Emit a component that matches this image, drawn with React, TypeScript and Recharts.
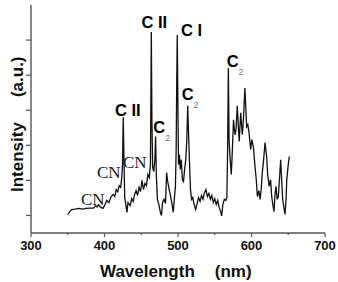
import { LineChart, Line, XAxis, YAxis } from "recharts"

// wavelength (nm) and intensity (a.u.)
const wavelength = [
  350, 352, 355, 360, 365, 370, 375, 380, 385, 388, 390, 392, 395, 398, 400,
  403, 406, 409, 412, 414, 416, 418, 420, 422, 423.5, 424.5, 425.5, 426.5, 427.5,
  429, 430.5, 432, 435, 437, 439, 441, 443, 445, 447, 449, 451, 453, 455, 457,
  459, 461, 462.5, 463.7, 464.5, 465.5, 467, 468.5, 469.5, 470.5, 472, 474, 476,
  477.5, 479, 481, 483, 484.5, 486, 488, 490, 492, 493.5, 495, 496.5, 497.5,
  498.3, 499, 499.8, 500.7, 502, 503, 504.5, 506, 507.5, 509, 510.5, 512, 513.2,
  514.2, 515.5, 517, 518.5, 520, 522, 524, 526, 528, 530, 532, 534, 536, 538,
  540, 542, 544, 546, 548, 550, 552, 554, 556, 558, 559.5, 561, 563, 565, 566.5,
  567.5, 568.5, 569.5, 571, 572.5, 574, 575.5, 577.5, 579, 580.6, 582, 583.3,
  585.3, 587.5, 589, 591, 593.4, 595, 596.6, 598.9, 600.5, 602.5, 604.8, 606.5,
  608, 610, 611.6, 613.2, 614.7, 616.5, 618.4, 620.6, 622, 624, 626, 627.5, 629,
  630.6, 632, 633.3, 635, 636.5, 638, 639.7, 641, 642.4, 644, 645.6, 647, 648,
  650, 651.4
]

const intensity = [
  1.02, 1.09, 1.17, 1.18, 1.2, 1.18, 1.2, 1.21, 1.21, 1.28, 1.24, 1.31, 1.23, 1.2, 1.28,
  1.43, 1.37, 1.54, 1.6, 1.54, 1.74, 1.68, 1.85, 1.8, 2.08, 2.45, 3.8, 2.59, 1.51,
  1.31, 1.09, 1.37, 1.28, 1.48, 1.4, 1.6, 1.71, 1.57, 1.8, 1.68, 2.0, 1.74, 1.91, 1.85,
  2.17, 2.08, 2.45, 6.23, 3.73, 2.37, 2.25, 2.59, 3.25, 2.17, 1.46, 1.31, 1.09,
  1.0, 1.37, 1.46, 1.34, 2.22, 1.97, 1.74, 1.54, 1.31, 1.09, 1.46, 1.83, 2.88,
  4.87, 6.15, 4.3, 2.45, 2.74, 2.31, 2.59, 2.02, 1.97, 2.31, 2.59, 3.16, 4.13,
  3.45, 2.59, 1.74, 1.46, 1.51, 1.31, 1.17, 1.34, 1.51, 1.4, 1.57, 1.46, 1.65, 1.74,
  1.54, 1.63, 1.46, 1.57, 1.37, 1.48, 1.31, 1.43, 1.23, 1.11, 0.99, 1.31, 1.46, 1.43, 1.51,
  2.88, 5.2, 3.16, 2.59, 2.17, 2.88, 3.73, 3.3, 3.45, 4.13, 3.59, 3.11,
  3.93, 3.3, 3.73, 4.63, 3.53, 3.59, 3.36, 2.88, 3.16, 2.96, 2.39, 2.02,
  1.54, 1.71, 1.46, 1.74, 2.22, 2.59, 3.08, 2.68, 2.17, 1.83, 2.02, 1.54, 1.31,
  1.11, 1.6, 1.83, 1.46, 1.54, 2.02, 2.59, 2.02, 1.46, 1.23, 1.03, 1.46, 2.02,
  2.45, 2.68
]

const xTicks = [300, 350, 400, 450, 500, 550, 600, 650, 700]
const yTicks = [1, 2, 3, 4, 5, 6]

const data = wavelength.map((wl, i) => ({ wl, v: intensity[i] }))

const AXIS = "#555"
const SANS = "'Liberation Sans', Arial, sans-serif"
const SERIF = "'Liberation Serif', 'Times New Roman', serif"

function XTick(props: any) {
  const { x, y, payload } = props
  const major = payload.value % 100 === 0
  return (
    <g>
      <line x1={x} x2={x} y1={y} y2={y + (major ? 4 : 2)} stroke={AXIS} strokeWidth={1.2} />
      {major && (
        <text x={x} y={y + 17} textAnchor="middle" fontFamily={SANS} fontWeight="bold" fontSize={13} fill="#111">
          {payload.value}
        </text>
      )}
    </g>
  )
}

function YTick(props: any) {
  const { x, y } = props
  return <line x1={x - 5} x2={x} y1={y} y2={y} stroke={AXIS} strokeWidth={1.2} />
}

function Bold({ x, y, children }: any) {
  return (
    <text x={x} y={y} fontFamily={SANS} fontWeight="bold" fontSize={16.5} fill="#000">
      {children}
    </text>
  )
}

function C2({ x, y }: any) {
  return (
    <text x={x} y={y} fontFamily={SANS} fontWeight="bold" fontSize={16.5} fill="#000">
      C
      <tspan dy={8} fontSize={9} fontWeight="normal" fill="#777">2</tspan>
    </text>
  )
}

function CN({ x, y }: any) {
  return (
    <text x={x} y={y} fontFamily={SERIF} fontSize={17} fill="#1a1a1a">
      CN
    </text>
  )
}

export default function App() {
  return (
    <div style={{ position: "absolute", left: 0, top: 0, width: 338, height: 282, background: "#fff" }}>
      <LineChart width={338} height={282} data={data} margin={{ top: 5, right: 13, bottom: 0, left: 0 }}>
        <XAxis
          type="number"
          dataKey="wl"
          domain={[300, 700]}
          ticks={xTicks}
          height={49}
          tickSize={0}
          tickMargin={0}
          tickLine={false}
          tick={<XTick />}
          axisLine={{ stroke: AXIS, strokeWidth: 1.4 }}
          allowDataOverflow
        />
        <XAxis
          xAxisId="top"
          orientation="top"
          type="number"
          domain={[300, 700]}
          height={0}
          tick={false}
          tickLine={false}
          axisLine={{ stroke: "#888", strokeWidth: 1.4 }}
        />
        <YAxis
          type="number"
          domain={[0.5, 7]}
          ticks={yTicks}
          width={31}
          tickSize={0}
          tickMargin={0}
          tickLine={false}
          tick={<YTick />}
          axisLine={{ stroke: AXIS, strokeWidth: 1.4 }}
          allowDataOverflow
        />
        <YAxis
          yAxisId="right"
          orientation="right"
          type="number"
          domain={[0.5, 7]}
          width={0}
          tick={false}
          tickLine={false}
          axisLine={{ stroke: "#777", strokeWidth: 1.6 }}
        />
        <Line
          type="linear"
          dataKey="v"
          stroke="#111"
          strokeWidth={1.3}
          dot={false}
          isAnimationActive={false}
        />
      </LineChart>

      <svg width={338} height={282} style={{ position: "absolute", left: 0, top: 0, pointerEvents: "none" }}>
        <Bold x={115} y={116}>C II</Bold>
        <Bold x={141.5} y={28.3}>C II</Bold>
        <Bold x={181} y={36}>C I</Bold>
        <C2 x={153.3} y={133.3} />
        <C2 x={181.7} y={100} />
        <C2 x={226.7} y={66.7} />
        <CN x={81} y={205} />
        <CN x={97} y={178} />
        <CN x={123} y={168} />

        <text x={100} y={277} fontFamily={SANS} fontWeight="bold" fontSize={17} fill="#111">
          Wavelength
          <tspan dx={20}>(nm)</tspan>
        </text>
        <text
          transform="translate(22.7 192) rotate(-90)"
          fontFamily={SANS}
          fontWeight="bold"
          fontSize={17}
          fill="#111"
        >
          Intensity
          <tspan dx={25}>(a.u.)</tspan>
        </text>
      </svg>
    </div>
  )
}
